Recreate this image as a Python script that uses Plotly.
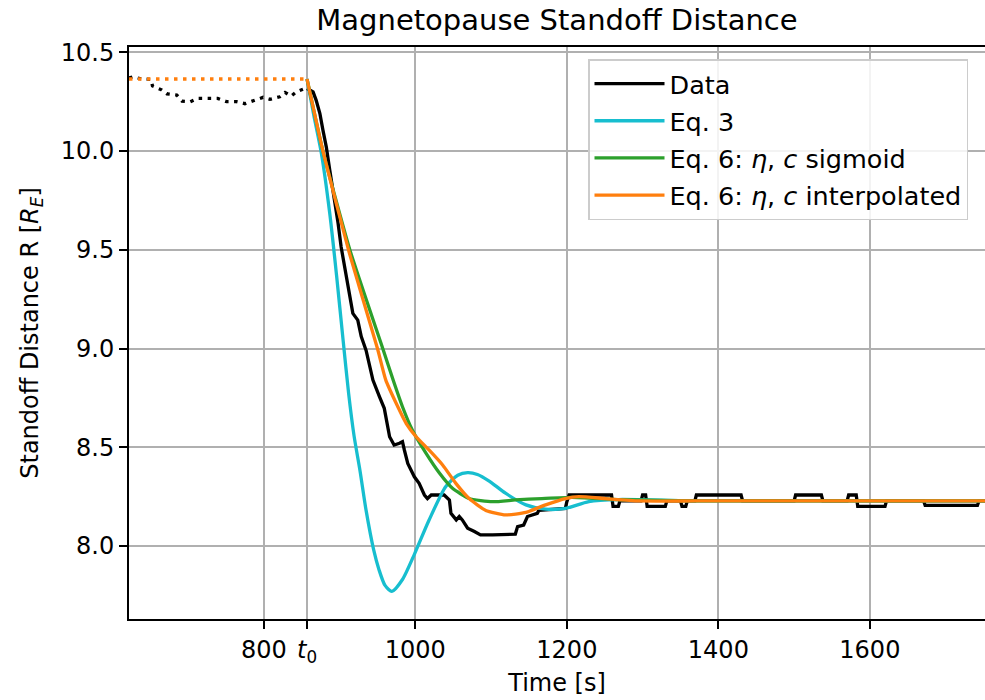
import plotly.graph_objects as go

# ---------------- data ----------------
T0 = 857

# observed data before t0 (dotted)
data_pre_t = [622, 627, 639, 651, 653, 665, 672, 685, 692, 703, 713, 726, 739, 751, 764,
              775, 786, 799, 808, 821, 828, 836, 843, 852, 857]
data_pre_r = [10.37, 10.376, 10.365, 10.363, 10.33, 10.31, 10.29, 10.284, 10.253, 10.25,
              10.267, 10.267, 10.267, 10.25, 10.25, 10.24, 10.253, 10.272, 10.262, 10.275,
              10.297, 10.278, 10.30, 10.314, 10.317]

# observed data after t0 (solid)
data_t = [857, 865, 869, 874, 878, 882.5, 887, 893, 898, 902, 906.6, 911, 917.5, 924, 928.6,
          935, 939.5, 944, 952.6, 959, 966, 972, 979, 983, 985.5, 990, 998.7, 1005, 1012,
          1016, 1021, 1038, 1045, 1047, 1054, 1058, 1062, 1069, 1078, 1086, 1102, 1132,
          1135, 1143, 1148, 1154, 1161, 1163, 1198, 1200, 1203,
          1259, 1261, 1268, 1270, 1298, 1300, 1304, 1306, 1330, 1332, 1350, 1352, 1357, 1359,
          1369, 1371, 1430, 1432, 1500, 1502, 1536, 1538, 1570, 1572, 1582, 1584, 1620, 1622,
          1671, 1673, 1742, 1744, 1752]
data_r = [10.317, 10.30, 10.258, 10.19, 10.106, 10.02, 9.904, 9.769, 9.634, 9.515, 9.414,
          9.313, 9.178, 9.144, 9.06, 8.99, 8.908, 8.84, 8.756, 8.697, 8.553, 8.511, 8.52,
          8.528, 8.486, 8.418, 8.35, 8.317, 8.258, 8.24, 8.258, 8.258, 8.233, 8.165, 8.132,
          8.149, 8.132, 8.09, 8.073, 8.056, 8.056, 8.06, 8.098, 8.106, 8.149, 8.157, 8.165,
          8.18, 8.19, 8.224, 8.258,
          8.258, 8.20, 8.20, 8.228, 8.228, 8.258, 8.258, 8.20, 8.20, 8.228, 8.228, 8.20,
          8.20, 8.228, 8.228, 8.258, 8.258, 8.228, 8.228, 8.258, 8.258, 8.228, 8.228, 8.258,
          8.258, 8.20, 8.20, 8.228, 8.228, 8.205, 8.205, 8.228, 8.228]

# models: constant before t0
pre_t = [622, T0]
pre_r = [10.365, 10.365]

# Eq. 3
eq3_t = [857, 866, 876, 887, 896, 904.7, 912, 919, 927, 935, 945, 952, 960, 969, 983,
         999, 1018, 1040, 1056, 1069, 1082, 1097, 1119, 1146, 1172, 1198, 1229, 1268, 1374,
         1752]
eq3_r = [10.365, 10.18, 9.988, 9.685, 9.37, 9.04, 8.77, 8.56, 8.38, 8.18, 7.98, 7.88, 7.80,
         7.77, 7.83, 7.96, 8.13, 8.30, 8.358, 8.371, 8.362, 8.33, 8.267, 8.208, 8.186,
         8.19, 8.225, 8.235, 8.228, 8.228]

# Eq. 6 sigmoid
sig_t = [857, 878, 913.5, 957, 970.7, 983, 996, 1014, 1032, 1049, 1071, 1102, 1132, 1167,
         1207, 1268, 1374, 1752]
sig_r = [10.365, 10.0, 9.5, 9.0, 8.84, 8.705, 8.587, 8.47, 8.368, 8.292, 8.24, 8.224, 8.233,
         8.24, 8.246, 8.235, 8.228, 8.228]

# Eq. 6 interpolated
int_t = [857, 878, 913, 950, 961, 975, 988, 1001, 1018, 1036, 1053.5, 1071, 1093, 1119,
         1146, 1172, 1198, 1216, 1251, 1295, 1374, 1752]
int_r = [10.365, 10.0, 9.482, 9.0, 8.84, 8.72, 8.62, 8.553, 8.486, 8.41, 8.317, 8.24, 8.18,
         8.157, 8.17, 8.208, 8.24, 8.25, 8.24, 8.228, 8.228, 8.228]

x_tickvals = [800, T0, 1000, 1200, 1400, 1600]
x_ticktext = ["800", "<i>t</i><sub>0</sub>", "1000", "1200", "1400", "1600"]
y_tickvals = [8.0, 8.5, 9.0, 9.5, 10.0, 10.5]
y_ticktext = ["8.0", "8.5", "9.0", "9.5", "10.0", "10.5"]

# ---------------- figure ----------------
FONT = "DejaVu Sans"
LW = 3.3
BLACK = "#000000"
CYAN = "#17becf"
GREEN = "#2ca02c"
ORANGE = "#ff7f0e"
DOT = "3.5px,5.5px"

fig = go.Figure()

fig.add_trace(go.Scatter(x=data_pre_t, y=data_pre_r, mode="lines", showlegend=False,
                         line=dict(color=BLACK, width=LW, dash=DOT)))
fig.add_trace(go.Scatter(x=data_t, y=data_r, mode="lines", name="Data", legendgroup="a",
                         line=dict(color=BLACK, width=LW)))
fig.add_trace(go.Scatter(x=eq3_t, y=eq3_r, mode="lines", name="Eq. 3", legendgroup="b",
                         line=dict(color=CYAN, width=LW, shape="spline", smoothing=0.7)))
fig.add_trace(go.Scatter(x=sig_t, y=sig_r, mode="lines",
                         name="Eq. 6: <i>η</i>, <i>c</i> sigmoid", legendgroup="c",
                         line=dict(color=GREEN, width=LW, shape="spline", smoothing=0.5)))
fig.add_trace(go.Scatter(x=int_t, y=int_r, mode="lines",
                         name="Eq. 6: <i>η</i>, <i>c</i> interpolated", legendgroup="d",
                         line=dict(color=ORANGE, width=LW, shape="spline", smoothing=0.5)))
fig.add_trace(go.Scatter(x=pre_t, y=pre_r, mode="lines", showlegend=False,
                         line=dict(color=ORANGE, width=LW, dash=DOT)))

fig.update_layout(
    width=985, height=700,
    margin=dict(l=129, r=0, t=47, b=81),
    paper_bgcolor="white", plot_bgcolor="white",
    font=dict(family=FONT, size=24, color="black"),
    title=dict(text="Magnetopause Standoff Distance", x=0.5, xref="paper", xanchor="center",
               y=1, yref="paper", yanchor="bottom", pad=dict(b=17),
               font=dict(family=FONT, size=29, color="black")),
    legend=dict(x=(588 - 129) / 856, y=(619 - 59) / 572, xanchor="left", yanchor="top",
                bgcolor="rgba(255,255,255,0.85)", bordercolor="#cccccc", borderwidth=1.5,
                font=dict(family=FONT, size=25.5, color="black"),
                traceorder="grouped", tracegroupgap=1, itemwidth=70),
    showlegend=True,
)

fig.update_xaxes(
    range=[622, 1752], tickmode="array", tickvals=x_tickvals, ticktext=x_ticktext,
    showgrid=True, gridcolor="#b0b0b0", gridwidth=1.5,
    showline=True, linecolor="black", linewidth=2, mirror=True,
    ticks="outside", ticklen=8, tickwidth=2, tickcolor="black",
    zeroline=False,
    title=dict(text="Time [s]", font=dict(family=FONT, size=24), standoff=8),
)
fig.update_yaxes(
    range=[7.63, 10.527], tickmode="array", tickvals=y_tickvals, ticktext=y_ticktext,
    showgrid=True, gridcolor="#b0b0b0", gridwidth=1.5,
    showline=True, linecolor="black", linewidth=2, mirror=False,
    ticks="outside", ticklen=8, tickwidth=2, tickcolor="black",
    zeroline=False,
    title=dict(text="Standoff Distance R [<i>R</i><sub><i>E</i></sub>]",
               font=dict(family=FONT, size=24), standoff=15),
)

fig.write_html("out.html", config={"displayModeBar": False},
               post_script="document.body.style.margin='0';document.body.style.overflow='hidden';")
